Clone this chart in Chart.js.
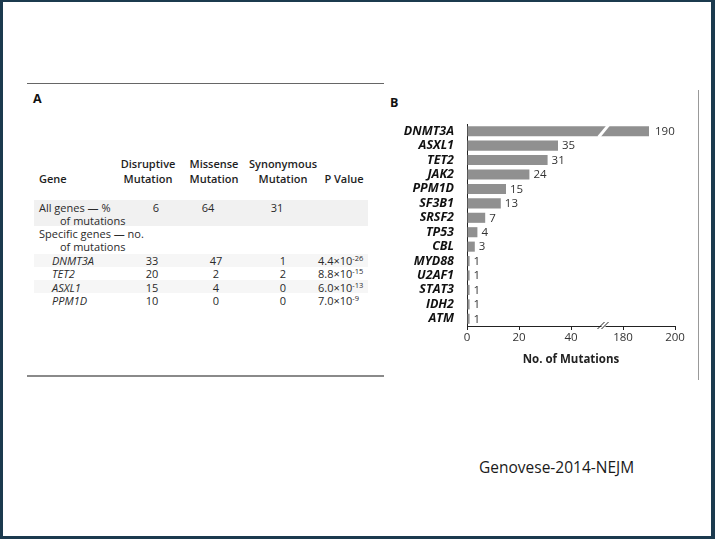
<!DOCTYPE html>
<html>
<head>
<meta charset="utf-8">
<script src="https://cdn.jsdelivr.net/npm/chart.js@4/dist/chart.umd.min.js"></script>
<style>
  html, body { margin: 0; padding: 0; background: #fff; }
  #slide { position: relative; width: 720px; height: 540px; overflow: hidden; font-family: "Open Sans", sans-serif; color: #2a2a2a; }
  #frame { position: absolute; left: 0; top: 0; width: 708px; height: 534px; border: 3px solid #1b3a4e; border-top-width: 2px; border-right-width: 4px; }
  .t { position: absolute; white-space: nowrap; font-size: 11px; line-height: 13px; transform: translateY(-50%); }
  .c { transform: translate(-50%, -50%); }
  .h { font-weight: 600; color: #1e1e1e; }
  .band { position: absolute; }
  sup { font-size: 7.5px; vertical-align: 4px; line-height: 0; }
  #cv { position: absolute; left: 380px; top: 110px; }
</style>
</head>
<body>
<div id="slide">
  <div id="frame"></div>
  <div id="tableA"></div>
  <canvas id="cv" width="310" height="270"></canvas>
  <div class="t" style="left:479px;top:467px;font-size:15.5px;line-height:18px;color:#1a1a1a;">Genovese-2014-NEJM</div>
</div>
<script>
// panel A
const colHeads = [["Disruptive", "Mutation"], ["Missense", "Mutation"], ["Synonymous", "Mutation"]];
const allGenesPct = [6, 64, 31];
const tableGenes = ["DNMT3A", "TET2", "ASXL1", "PPM1D"];
const disruptive = [33, 20, 15, 10];
const missense = [47, 2, 4, 0];
const synonymous = [1, 2, 0, 0];
const pMant = ["4.4", "8.8", "6.0", "7.0"];
const pExp = [-26, -15, -13, -9];

// panel B
const genes = ["DNMT3A", "ASXL1", "TET2", "JAK2", "PPM1D", "SF3B1", "SRSF2", "TP53", "CBL", "MYD88", "U2AF1", "STAT3", "IDH2", "ATM"];
const mutations = [190, 35, 31, 24, 15, 13, 7, 4, 3, 1, 1, 1, 1, 1];
const tickValues = [0, 20, 40, 180, 200];
const breakFrom = 52.5;   // axis is cut between 52.5 and 172.5
const breakGap = 120;

const tbl = document.getElementById("tableA");
let html = "";
function txt(x, y, s, cls, extra) {
  html += '<div class="t ' + (cls || "") + '" style="left:' + x + 'px;top:' + y + 'px;' + (extra || "") + '">' + s + '</div>';
}
// rules and shading
html += '<div class="band" style="left:27px;top:83px;width:357px;height:1px;background:#666"></div>';
html += '<div class="band" style="left:27px;top:375px;width:357px;height:2px;background:#8a8a8a"></div>';
html += '<div class="band" style="left:34px;top:200px;width:334px;height:26px;background:#f1f1f1"></div>';
html += '<div class="band" style="left:34px;top:254px;width:334px;height:13px;background:#f6f6f6"></div>';
html += '<div class="band" style="left:34px;top:280px;width:334px;height:13px;background:#f6f6f6"></div>';
html += '<div class="band" style="left:698px;top:90px;width:1px;height:290px;background:#999"></div>';
txt(33, 98, "A", "h", "font-size:12.5px;font-weight:700;color:#111");
txt(390, 102, "B", "h", "font-size:12.5px;font-weight:700;color:#111");

const headX = [148, 214, 283];
txt(39, 178, "Gene", "h");
colHeads.forEach((hd, i) => {
  txt(headX[i], 163, hd[0], "h c");
  txt(headX[i], 178, hd[1], "h c");
});
txt(344, 178, "P Value", "h c");

txt(39, 206.5, "All genes — %");
txt(60, 219.5, "of mutations");
const allX = [156, 208, 277];
allGenesPct.forEach((v, i) => txt(allX[i], 206.5, v, "c"));
txt(39, 233, "Specific genes — no.");
txt(60, 246, "of mutations");

const rowY = [260, 273.3, 286.7, 300];
const valX = [152, 216, 283];
tableGenes.forEach((g, i) => {
  txt(52, rowY[i], g, "", "font-style:italic");
  txt(valX[0], rowY[i], disruptive[i], "c");
  txt(valX[1], rowY[i], missense[i], "c");
  txt(valX[2], rowY[i], synonymous[i], "c");
  txt(318, rowY[i], pMant[i] + "×10<sup>" + pExp[i] + "</sup>");
});
tbl.innerHTML = html;

// maps a real count onto the cut axis
function toAxis(v) { return v > breakFrom ? v - breakGap : v; }

const labelPlugin = {
  id: "barLabels",
  afterDatasetsDraw(chart) {
    const ctx = chart.ctx;
    const meta = chart.getDatasetMeta(0);
    const xs = chart.scales.x;
    ctx.save();
    ctx.font = "11.5px 'Open Sans'";
    ctx.fillStyle = "#333";
    ctx.textBaseline = "middle";
    meta.data.forEach((bar, i) => {
      ctx.fillText(mutations[i], bar.x + (i === 0 ? 6 : 4), bar.y + 0.5);
    });
    // break in the long bar
    const bx = xs.getPixelForValue(breakFrom);
    const b0 = meta.data[0];
    const h = b0.height / 2;
    ctx.strokeStyle = "#fff";
    ctx.lineWidth = 3;
    ctx.beginPath();
    ctx.moveTo(bx - 5, b0.y + h + 1);
    ctx.lineTo(bx + 5, b0.y - h - 1);
    ctx.stroke();
    // break marks on the axis
    const ay = chart.chartArea.bottom;
    ctx.fillStyle = "#fff";
    ctx.fillRect(bx - 2, ay - 2, 4, 4);
    ctx.strokeStyle = "#222";
    ctx.lineWidth = 1;
    ctx.beginPath();
    ctx.moveTo(bx - 6, ay + 3); ctx.lineTo(bx + 1, ay - 4);
    ctx.moveTo(bx - 2, ay + 3); ctx.lineTo(bx + 5, ay - 4);
    ctx.stroke();
    ctx.restore();
  }
};

new Chart(document.getElementById("cv"), {
  type: "bar",
  data: {
    labels: genes,
    datasets: [{
      data: mutations.map(toAxis),
      backgroundColor: "#909090",
      barPercentage: 0.7,
      categoryPercentage: 1
    }]
  },
  options: {
    indexAxis: "y",
    responsive: false,
    animation: false,
    layout: { padding: { top: 14, right: 15, left: 0, bottom: 0 } },
    plugins: { legend: { display: false }, tooltip: { enabled: false } },
    scales: {
      x: {
        type: "linear",
        min: 0,
        max: 80,
        afterBuildTicks: (s) => { s.ticks = tickValues.map(v => ({ value: toAxis(v) })); },
        afterFit: (s) => { s.height = 54; },
        ticks: {
          callback: (v, i) => tickValues[i],
          font: { family: "Open Sans", size: 11.5 },
          color: "#333",
          padding: 1,
          maxRotation: 0
        },
        grid: { drawOnChartArea: false, drawTicks: true, tickLength: 4, color: "#222" },
        border: { display: true, color: "#222", width: 1 },
        title: {
          display: true,
          text: "No. of Mutations",
          font: { family: "Open Sans", size: 11.5, weight: "bold" },
          color: "#222",
          padding: { top: 0, bottom: 13 }
        }
      },
      y: {
        afterFit: (s) => { s.width = 87; },
        ticks: {
          autoSkip: false,
          font: { family: "Open Sans", size: 12.5, weight: "bold", style: "italic" },
          color: "#111",
          padding: 5
        },
        grid: { display: false },
        border: { display: true, color: "#222", width: 1 }
      }
    }
  },
  plugins: [labelPlugin]
});
</script>
</body>
</html>
